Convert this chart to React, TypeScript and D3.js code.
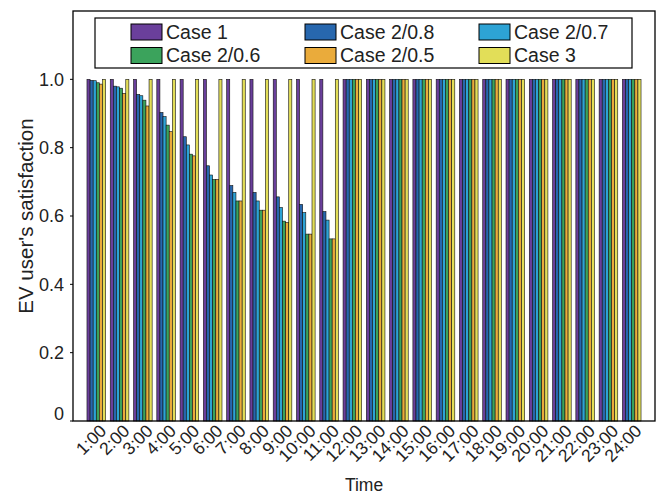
import React from "react";
import * as d3 from "d3";

const hours = Array.from({ length: 24 }, (_, i) => `${i + 1}:00`);
const seriesNames = ["Case 1", "Case 2/0.8", "Case 2/0.7", "Case 2/0.6", "Case 2/0.5", "Case 3"];
const seriesColors = ["#6A3F9B", "#2767AE", "#2DA3D5", "#3BA35C", "#EAAB3B", "#E2DE58"];

const case1 = [1, 1, 1, 1, 1, 1, 1, 1, 1, 1, 1, 1, 1, 1, 1, 1, 1, 1, 1, 1, 1, 1, 1, 1];
const case2_08 = [0.997, 0.98, 0.956, 0.903, 0.832, 0.747, 0.689, 0.669, 0.656, 0.634, 0.613, 1, 1, 1, 1, 1, 1, 1, 1, 1, 1, 1, 1, 1];
const case2_07 = [0.996, 0.978, 0.952, 0.891, 0.808, 0.72, 0.669, 0.644, 0.625, 0.61, 0.588, 1, 1, 1, 1, 1, 1, 1, 1, 1, 1, 1, 1, 1];
const case2_06 = [0.99, 0.974, 0.939, 0.866, 0.781, 0.707, 0.644, 0.617, 0.585, 0.547, 0.533, 1, 1, 1, 1, 1, 1, 1, 1, 1, 1, 1, 1, 1];
const case2_05 = [0.986, 0.959, 0.922, 0.847, 0.776, 0.707, 0.644, 0.617, 0.581, 0.547, 0.533, 1, 1, 1, 1, 1, 1, 1, 1, 1, 1, 1, 1, 1];
const case3 = [1, 1, 1, 1, 1, 1, 1, 1, 1, 1, 1, 1, 1, 1, 1, 1, 1, 1, 1, 1, 1, 1, 1, 1];
const seriesValues = [case1, case2_08, case2_07, case2_06, case2_05, case3];
const yTicks = [0, 0.2, 0.4, 0.6, 0.8, 1.0];

const W = 664, H = 494;
const left = 73, right = 655, top = 11, bottom = 421;
const font = "'Liberation Sans', Arial, Helvetica, sans-serif";

export default function App() {
  const x = d3.scaleLinear().domain([0, 25]).range([left, right]);
  const y = d3.scaleLinear().domain([0, 1.2]).range([bottom, top]);
  const step = x(1) - x(0);
  const groupW = step * 0.8;
  const n = seriesNames.length;
  const slot = groupW / n;

  const legendX = 95, legendY = 18, legendW = 537, legendH = 50;

  return (
    <svg width={W} height={H} style={{ position: "absolute", left: 0, top: 0, background: "#fff" }} fontFamily={font}>
      <rect x={0} y={0} width={W} height={H} fill="#fff" />
      {seriesValues.map((vals, s) =>
        vals.map((v, i) => {
          const cx = x(i + 1);
          const bx = cx - groupW / 2 + s * slot;
          return (
            <rect key={`${s}-${i}`} x={bx} y={y(v)} width={slot} height={y(0) - y(v)}
              fill={seriesColors[s]} stroke="#111" strokeWidth={0.6} />
          );
        })
      )}
      <rect x={left} y={top} width={right - left} height={bottom - top} fill="none" stroke="#000" strokeWidth={1.3} />
      {yTicks.map((t) => (
        <g key={t}>
          <line x1={left - 3} x2={left} y1={y(t)} y2={y(t)} stroke="#000" strokeWidth={1} />
          <text x={64} y={y(t) - (t === 0 ? 7 : 0)} dy="0.35em" textAnchor="end" fontSize={18} fill="#222">
            {t === 0 ? "0" : t.toFixed(1)}
          </text>
        </g>
      ))}
      {hours.map((h, i) => (
        <text key={h} transform={`translate(${x(i + 1) + 11},${bottom + 11}) rotate(-45)`} textAnchor="end"
          fontSize={17.5} fill="#222">
          {h}
        </text>
      ))}
      <text x={(left + right) / 2} y={491} textAnchor="middle" fontSize={17.5} fill="#222">Time</text>
      <text transform={`translate(33,${(top + bottom) / 2}) rotate(-90)`} textAnchor="middle" fontSize={20.5} fill="#222">
        EV user's satisfaction
      </text>
      <rect x={legendX} y={legendY} width={legendW} height={legendH} fill="#fff" stroke="#000" strokeWidth={1.2} />
      {seriesNames.map((name, k) => {
        const col = k % 3, row = Math.floor(k / 3);
        const sx = 131 + col * 174;
        const cy = legendY + 14 + row * 23.5;
        return (
          <g key={name}>
            <rect x={sx} y={cy - 8} width={31} height={16} fill={seriesColors[k]} stroke="#000" strokeWidth={1} />
            <text x={sx + 35} y={cy} dy="0.35em" fontSize={19.5} fill="#222">{name}</text>
          </g>
        );
      })}
    </svg>
  );
}
